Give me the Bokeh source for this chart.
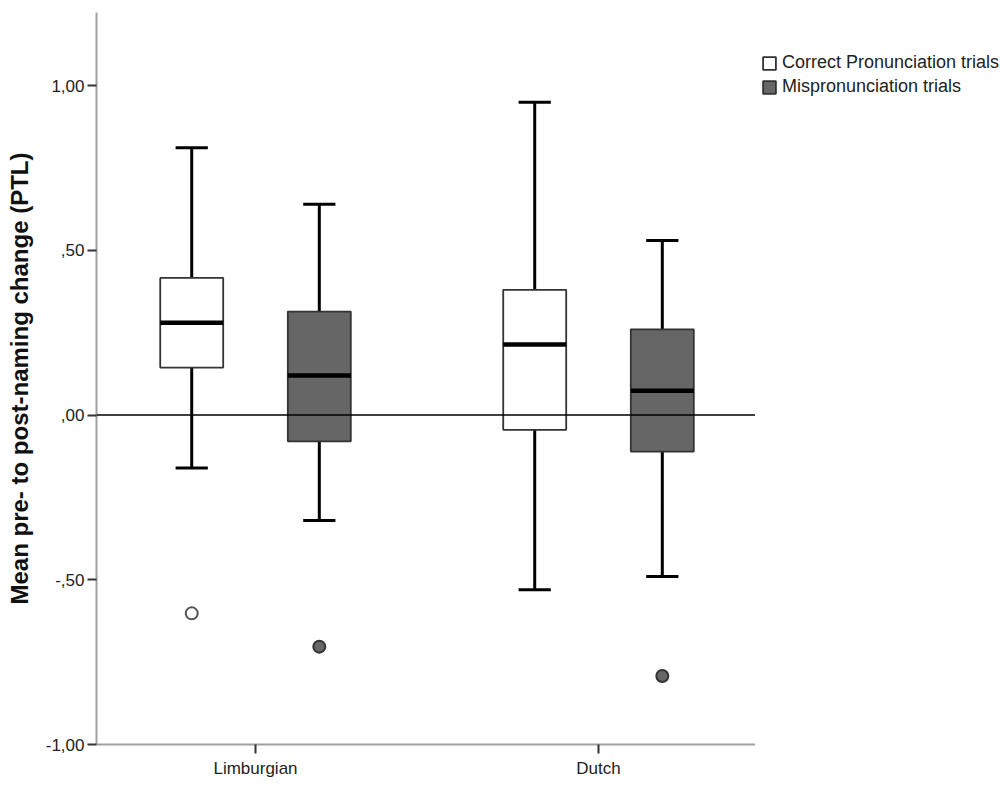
from bokeh.plotting import figure
from bokeh.layouts import row
from bokeh.models import FixedTicker, Range1d, Span, Legend, LegendItem
from bokeh.embed import file_html
from bokeh.resources import INLINE

# ---------------- data ----------------
groups = ["Limburgian", "Dutch"]
series = ["Correct Pronunciation trials", "Mispronunciation trials"]

cp_lower = [-0.161, -0.530]
cp_q1 = [0.144, -0.045]
cp_median = [0.280, 0.214]
cp_q3 = [0.416, 0.380]
cp_upper = [0.811, 0.949]
cp_out_group = ["Limburgian"]
cp_out_value = [-0.602]

mp_lower = [-0.320, -0.490]
mp_q1 = [-0.080, -0.111]
mp_median = [0.120, 0.074]
mp_q3 = [0.314, 0.260]
mp_upper = [0.640, 0.530]
mp_out_group = ["Limburgian", "Dutch"]
mp_out_value = [-0.703, -0.792]

y_ticks = [-1.0, -0.5, 0.0, 0.5, 1.0]
y_tick_labels = ["-1,00", "-,50", ",00", ",50", "1,00"]

# ---------------- figure ----------------
FONT = "Liberation Sans"
H = 785
p = figure(width=755, height=H, output_backend="svg", toolbar_location=None,
           x_range=Range1d(-0.4636, 1.4577), y_range=Range1d(-1.0, 1.2216),
           min_border_left=96, min_border_right=0, min_border_top=12,
           min_border_bottom=41)
p.outline_line_color = None
p.xgrid.visible = False
p.ygrid.visible = False
p.background_fill_color = "white"

offset = 0.186
half_box = 0.0918
half_cap = 0.047

styles = [
    dict(fill="white", line="#333333", out_fill="white", out_line="#555555"),
    dict(fill="#666666", line="#333333", out_fill="#666666", out_line="#333333"),
]

datasets = [
    (cp_lower, cp_q1, cp_median, cp_q3, cp_upper, cp_out_group, cp_out_value),
    (mp_lower, mp_q1, mp_median, mp_q3, mp_upper, mp_out_group, mp_out_value),
]

for k, (lo, q1, med, q3, up, og, ov) in enumerate(datasets):
    st = styles[k]
    off = -offset if k == 0 else offset
    x = [i + off for i in range(len(groups))]
    # whiskers
    p.segment(x0=x, y0=q3, x1=x, y1=up, line_color="black", line_width=3)
    p.segment(x0=x, y0=lo, x1=x, y1=q1, line_color="black", line_width=3)
    # caps
    p.segment(x0=[v - half_cap for v in x], y0=up, x1=[v + half_cap for v in x], y1=up,
              line_color="black", line_width=3)
    p.segment(x0=[v - half_cap for v in x], y0=lo, x1=[v + half_cap for v in x], y1=lo,
              line_color="black", line_width=3)
    # box
    p.quad(left=[v - half_box for v in x], right=[v + half_box for v in x],
           bottom=q1, top=q3, fill_color=st["fill"], line_color=st["line"],
           line_width=1.8)
    # median
    p.segment(x0=[v - half_box for v in x], y0=med, x1=[v + half_box for v in x], y1=med,
              line_color="black", line_width=4.5)
    # outliers
    ox = [groups.index(g) + off for g in og]
    p.scatter(x=ox, y=ov, size=12, marker="circle", fill_color=st["out_fill"],
              line_color=st["out_line"], line_width=2)

p.add_layout(Span(location=0, dimension="width", line_color="black", line_width=1.5))

# axes
for ax in (p.xaxis[0], p.yaxis[0]):
    ax.axis_line_color = "#a0a0a0"
    ax.axis_line_width = 2
    ax.major_tick_line_color = "#333333"
    ax.major_tick_line_width = 2
    ax.major_tick_in = 0
    ax.major_tick_out = 9
    ax.minor_tick_line_color = None
    ax.major_label_text_font = FONT
    ax.major_label_text_font_size = "17px"
    ax.major_label_text_color = "#222222"

p.xaxis.ticker = FixedTicker(ticks=list(range(len(groups))))
p.xaxis.major_label_overrides = {i: g for i, g in enumerate(groups)}
p.xaxis.major_label_standoff = 5

p.yaxis.ticker = FixedTicker(ticks=y_ticks)
p.yaxis.major_label_overrides = {t: l for t, l in zip(y_ticks, y_tick_labels)}
p.yaxis.major_label_standoff = 3
p.yaxis.axis_label = "Mean pre- to post-naming change (PTL)"
p.yaxis.axis_label_text_font = FONT
p.yaxis.axis_label_text_font_style = "bold"
p.yaxis.axis_label_text_font_size = "24px"
p.yaxis.axis_label_text_color = "#111111"
p.yaxis.axis_label_standoff = 10

# ---------------- legend panel ----------------
lg = figure(width=245, height=H, output_backend="svg", toolbar_location=None,
            x_range=Range1d(-0.4636, 1.4577), y_range=Range1d(-1.0, 1.2216),
            x_axis_location=None, y_axis_location=None,
            min_border_left=0, min_border_right=0, min_border_top=12, min_border_bottom=41)
lg.outline_line_color = None
lg.xgrid.visible = False
lg.ygrid.visible = False

key_renderers = []
for k, (lo, q1, med, q3, up, og, ov) in enumerate(datasets):
    st = styles[k]
    off = -offset if k == 0 else offset
    x = [i + off for i in range(len(groups))]
    r = lg.quad(left=[v - half_box for v in x], right=[v + half_box for v in x],
                bottom=q1, top=q3, fill_color=st["fill"], line_color=st["line"],
                line_width=1.8)
    r.visible = False  # only used as legend key
    key_renderers.append(r)

legend = Legend(items=[LegendItem(label=series[i], renderers=[key_renderers[i]]) for i in range(len(series))],
                location=(6, 647), padding=0, margin=0, border_line_color=None,
                background_fill_alpha=0, glyph_width=16, glyph_height=16,
                label_height=16, label_standoff=5, spacing=3,
                inactive_fill_alpha=0,
                label_text_font=FONT, label_text_font_size="18px",
                label_text_color="#222222")
lg.add_layout(legend)

layout = row(p, lg)
open("out.html", "w").write(file_html(layout, INLINE))
